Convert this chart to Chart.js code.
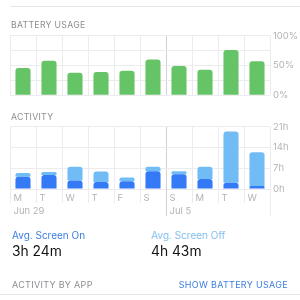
<!DOCTYPE html>
<html><head><meta charset="utf-8">
<script src="https://cdn.jsdelivr.net/npm/chart.js@4/dist/chart.umd.min.js"></script>
<style>
html,body{margin:0;padding:0;background:#fff;width:300px;height:300px;overflow:hidden;font-family:Inter,"Liberation Sans",sans-serif}
.t{position:absolute;white-space:nowrap;line-height:1;z-index:2}
.hdr{font-size:8.7px;color:#8e8e93;letter-spacing:0.3px}
.sep{position:absolute;height:1px;background:#e6e6e8}
.cw{position:absolute;left:0;width:300px}
</style></head><body>
<div class="sep" style="left:10px;top:6px;width:290px"></div>
<div class="t hdr" style="left:11px;top:20.8px">BATTERY USAGE</div>
<div class="cw" style="top:27px;height:77px"><canvas id="bat"></canvas></div>
<div class="t hdr" style="left:11px;top:112.8px">ACTIVITY</div>
<div class="cw" style="top:118px;height:102px"><canvas id="act"></canvas></div>
<div class="t" style="left:12px;top:230.3px;font-size:10px;color:#3b7de3">Avg. Screen On</div>
<div class="t" style="left:12px;top:245.1px;font-size:13.8px;color:#111">3h 24m</div>
<div class="t" style="left:151px;top:230.3px;font-size:10px;color:#86c2f2">Avg. Screen Off</div>
<div class="t" style="left:151px;top:245.1px;font-size:13.8px;color:#111">4h 43m</div>
<div class="t hdr" style="left:12px;top:279.6px;font-size:9px">ACTIVITY BY APP</div>
<div class="t" style="right:12px;top:279.6px;font-size:9px;color:#3b7de3;letter-spacing:0.3px">SHOW BATTERY USAGE</div>
<div class="sep" style="left:0;top:294px;width:300px"></div>
<script>
const days = ['M','T','W','T','F','S','S','M','T','W'];
const dates = ['Jun 29','','','','','','Jul 5','','',''];
const battery = [46,58,38,39,41,60,49,43,76,57];
const screenOn = [4.1,4.7,2.9,2.4,2.6,6.0,5.0,3.4,2.1,1.0];
const screenOff = [1.3,1.0,4.6,3.5,1.3,1.5,1.0,4.1,17.3,11.4];
const batteryLabelTicks = [0,50,100];

const GREEN='#65c466', DARK='#3479f5', LIGHT='#72bcf5';
const GRID='#ececee', WEEK='#d2d2d6', TXT='#b4b4b8';
const radius={topLeft:3,topRight:3,bottomLeft:0,bottomRight:0};
const gridColor = c => (c.index===6 ? WEEK : GRID);

const extend = {id:'extend', afterDraw(chart, args, opts){
  if(!opts.to) return;
  const x=chart.scales.x, ctx=chart.ctx, a=chart.chartArea;
  ctx.save(); ctx.lineWidth=1;
  [[5.5,WEEK],[9.5,GRID]].forEach(([v,c])=>{
    const px=Math.round(x.getPixelForValue(v))+0.5;
    ctx.strokeStyle=c; ctx.beginPath(); ctx.moveTo(px,a.bottom); ctx.lineTo(px,opts.to); ctx.stroke();
  });
  ctx.restore();
}};

const yFit = s => { s.width = 30; };

new Chart(document.getElementById('bat'), {
  type:'bar',
  data:{labels:days, datasets:[{data:battery, backgroundColor:GREEN, borderRadius:radius, borderSkipped:'start',
    barPercentage:0.58, categoryPercentage:1}]},
  options:{responsive:true, maintainAspectRatio:false, animation:false,
    layout:{padding:{left:10,right:0,top:6,bottom:6}},
    plugins:{legend:{display:false}, tooltip:{enabled:false}},
    scales:{
      x:{grid:{offset:true, color:gridColor, drawTicks:false}, border:{display:false}, ticks:{display:false}, afterFit:s=>{s.height=0;}},
      y:{position:'right', min:0, max:100, grid:{color:GRID, drawTicks:false}, border:{display:false},
         ticks:{stepSize:25, padding:3, color:TXT, font:{family:'Inter', size:9.5},
           callback:v=>batteryLabelTicks.includes(v)? v+'%' : ''}, afterFit:yFit}
    }}
});

new Chart(document.getElementById('act'), {
  type:'bar',
  data:{labels:days.map((d,i)=>[d, dates[i]]), datasets:[
    {data:screenOn, backgroundColor:DARK, borderRadius:radius, borderSkipped:'start', barPercentage:0.58, categoryPercentage:1},
    {data:screenOff, backgroundColor:LIGHT, borderRadius:radius, borderSkipped:'start', barPercentage:0.58, categoryPercentage:1}]},
  options:{responsive:true, maintainAspectRatio:false, animation:false,
    layout:{padding:{left:10,right:0,top:6,bottom:0}},
    plugins:{legend:{display:false}, tooltip:{enabled:false}, extend:{to:98}},
    scales:{
      x:{stacked:true, grid:{offset:true, color:gridColor, tickColor:gridColor, tickLength:14}, border:{display:false},
         ticks:{autoSkip:false, maxRotation:0, align:'start', labelOffset:-9.5, padding:-11, color:TXT,
           font:{family:'Inter', size:9.5, lineHeight:'13px'}}, afterFit:s=>{s.height=31;}},
      y:{stacked:true, position:'right', min:0, max:21, grid:{color:GRID, drawTicks:false}, border:{display:false},
         ticks:{stepSize:7, padding:3, color:TXT, font:{family:'Inter', size:9.5}, callback:v=>v+'h'}, afterFit:yFit}
    }},
  plugins:[extend]
});
</script>
</body></html>
